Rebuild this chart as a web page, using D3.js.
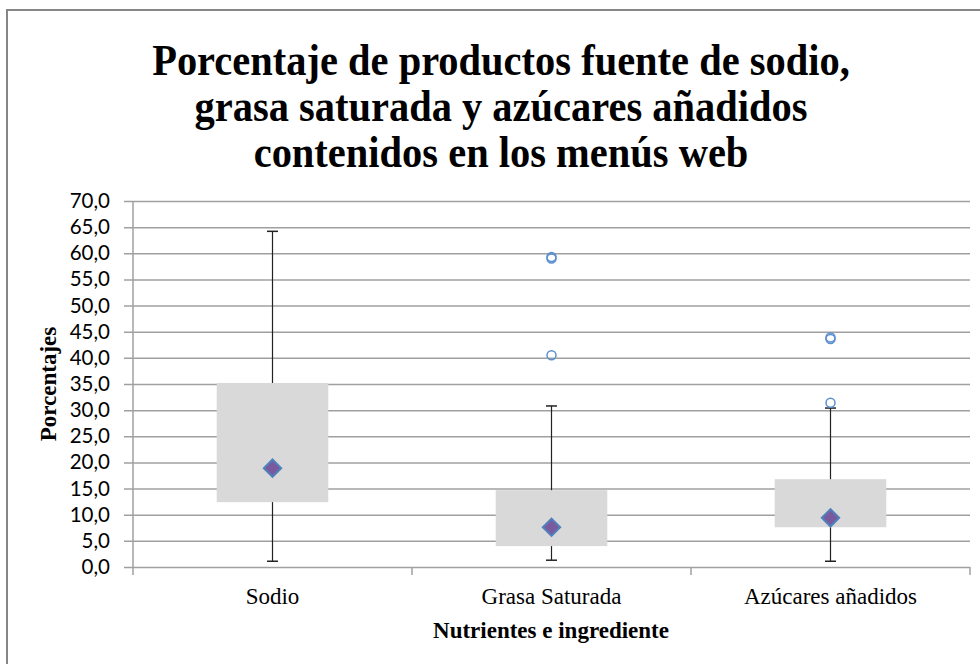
<!DOCTYPE html>
<html>
<head>
<meta charset="utf-8">
<script src="https://cdn.jsdelivr.net/npm/d3@7"></script>
<style>
  body { margin: 0; background: #fff; }
</style>
</head>
<body>
<script>
//Width and height
var w = 980;
var h = 664;

//Data
var categories = ["Sodio", "Grasa Saturada", "Azúcares añadidos"];
var whiskerMin = [1.1, 1.3, 1.1];
var q1 = [12.4, 4.0, 7.6];
var q3 = [35.2, 14.7, 16.8];
var whiskerMax = [64.2, 30.8, 30.4];
var means = [18.9, 7.6, 9.4];
var outliers = [[], [59.0, 59.3, 40.5], [43.6, 43.9, 31.4]];
var yTicks = d3.range(0, 70.1, 5);

var titleLines = ["Porcentaje de productos fuente de sodio,",
                  "grasa saturada y azúcares añadidos",
                  "contenidos en los menús web"];

//Plot area ("top" is taken by window.top, so use other names)
var plotLeft = 133, plotRight = 970, plotTop = 201, plotBottom = 567;

var xScale = d3.scaleBand()
  .domain(categories)
  .range([plotLeft, plotRight])
  .padding(0);

var yScale = d3.scaleLinear()
  .domain([0, 70])
  .range([plotBottom, plotTop]);

var esFormat = d3.formatLocale({decimal: ",", thousands: ".", grouping: [3], currency: ["", "€"]}).format(".1f");

var svg = d3.select("body")
  .append("svg")
  .attr("width", w)
  .attr("height", h);

//Chart frame (runs off the right and bottom edges)
svg.append("rect")
  .attr("x", 7).attr("y", 10)
  .attr("width", 1000).attr("height", 700)
  .attr("fill", "none")
  .attr("stroke", "#868686")
  .attr("stroke-width", 2);

//Title, a little condensed like the original
svg.append("g")
  .attr("transform", "translate(501,0) scale(0.92,1)")
  .selectAll("text")
  .data(titleLines)
  .enter().append("text")
  .attr("x", 0)
  .attr("y", function(d, i) { return 75 + i * 46; })
  .attr("text-anchor", "middle")
  .attr("font-family", "Liberation Serif, Times New Roman, serif")
  .attr("font-weight", "bold")
  .attr("font-size", 44)
  .text(function(d) { return d; });

//Y axis with gridlines
var yAxis = d3.axisLeft(yScale)
  .tickValues(yTicks)
  .tickSize(-(plotRight - plotLeft + 9))
  .tickPadding(14)
  .tickFormat(esFormat);

var gy = svg.append("g")
  .attr("transform", "translate(" + (plotLeft - 9) + ",0)")
  .call(yAxis);
gy.select(".domain").remove();
gy.selectAll(".tick line")
  .attr("stroke", "#a0a0a0")
  .attr("stroke-width", 1.5);
gy.selectAll(".tick text")
  .attr("font-family", "Lato, sans-serif")
  .attr("font-size", 20.5)
  .attr("fill", "#000");

//Vertical axis line
svg.append("line")
  .attr("x1", plotLeft).attr("x2", plotLeft)
  .attr("y1", plotTop).attr("y2", plotBottom)
  .attr("stroke", "#a0a0a0")
  .attr("stroke-width", 1.5);

//X axis labels
var xAxis = d3.axisBottom(xScale)
  .tickSize(0)
  .tickPadding(21);

var gx = svg.append("g")
  .attr("transform", "translate(0," + plotBottom + ")")
  .call(xAxis);
gx.select(".domain").remove();
gx.selectAll(".tick text")
  .attr("font-family", "Liberation Serif, Times New Roman, serif")
  .attr("font-size", 23)
  .attr("fill", "#000");

//Tick marks at category boundaries
var bounds = categories.map(function(c) { return xScale(c); }).concat([plotRight]);
svg.append("g")
  .selectAll("line")
  .data(bounds)
  .enter().append("line")
  .attr("x1", function(d) { return d; })
  .attr("x2", function(d) { return d; })
  .attr("y1", plotBottom)
  .attr("y2", plotBottom + 8)
  .attr("stroke", "#a0a0a0")
  .attr("stroke-width", 1.5);

//Axis titles
svg.append("text")
  .attr("transform", "translate(56,384) rotate(-90)")
  .attr("text-anchor", "middle")
  .attr("font-family", "Liberation Serif, Times New Roman, serif")
  .attr("font-weight", "bold")
  .attr("font-size", 23)
  .text("Porcentajes");

svg.append("text")
  .attr("x", 551)
  .attr("y", 638)
  .attr("text-anchor", "middle")
  .attr("font-family", "Liberation Serif, Times New Roman, serif")
  .attr("font-weight", "bold")
  .attr("font-size", 23)
  .text("Nutrientes e ingrediente");

//Box plot marks
var boxW = xScale.bandwidth() * 0.4;
var capW = 11;
var cx = function(i) { return xScale(categories[i]) + xScale.bandwidth() / 2; };

var boxes = svg.append("g")
  .selectAll("g")
  .data(categories)
  .enter().append("g");

//Whiskers
boxes.append("line")
  .attr("x1", function(d, i) { return cx(i); })
  .attr("x2", function(d, i) { return cx(i); })
  .attr("y1", function(d, i) { return yScale(whiskerMin[i]); })
  .attr("y2", function(d, i) { return yScale(whiskerMax[i]); })
  .attr("stroke", "#222")
  .attr("stroke-width", 1.2);

boxes.append("line")
  .attr("x1", function(d, i) { return cx(i) - capW / 2; })
  .attr("x2", function(d, i) { return cx(i) + capW / 2; })
  .attr("y1", function(d, i) { return yScale(whiskerMin[i]); })
  .attr("y2", function(d, i) { return yScale(whiskerMin[i]); })
  .attr("stroke", "#222")
  .attr("stroke-width", 1.5);

boxes.append("line")
  .attr("x1", function(d, i) { return cx(i) - capW / 2; })
  .attr("x2", function(d, i) { return cx(i) + capW / 2; })
  .attr("y1", function(d, i) { return yScale(whiskerMax[i]); })
  .attr("y2", function(d, i) { return yScale(whiskerMax[i]); })
  .attr("stroke", "#222")
  .attr("stroke-width", 1.5);

//Boxes (Q1 to Q3)
boxes.append("rect")
  .attr("x", function(d, i) { return cx(i) - boxW / 2; })
  .attr("width", boxW)
  .attr("y", function(d, i) { return yScale(q3[i]); })
  .attr("height", function(d, i) { return yScale(q1[i]) - yScale(q3[i]); })
  .attr("fill", "#d9d9d9");

//Mean diamonds
boxes.append("path")
  .attr("d", d3.symbol().type(d3.symbolSquare).size(150))
  .attr("transform", function(d, i) {
    return "translate(" + cx(i) + "," + yScale(means[i]) + ") rotate(45)";
  })
  .attr("fill", "#7a5a9e")
  .attr("stroke", "#4f81bd")
  .attr("stroke-width", 2);

//Outliers
boxes.each(function(d, i) {
  d3.select(this).selectAll("circle")
    .data(outliers[i])
    .enter().append("circle")
    .attr("cx", cx(i))
    .attr("cy", function(v) { return yScale(v); })
    .attr("r", 4.5)
    .attr("fill", "none")
    .attr("stroke", "#5b8fd0")
    .attr("stroke-width", 1.5);
});
</script>
</body>
</html>
